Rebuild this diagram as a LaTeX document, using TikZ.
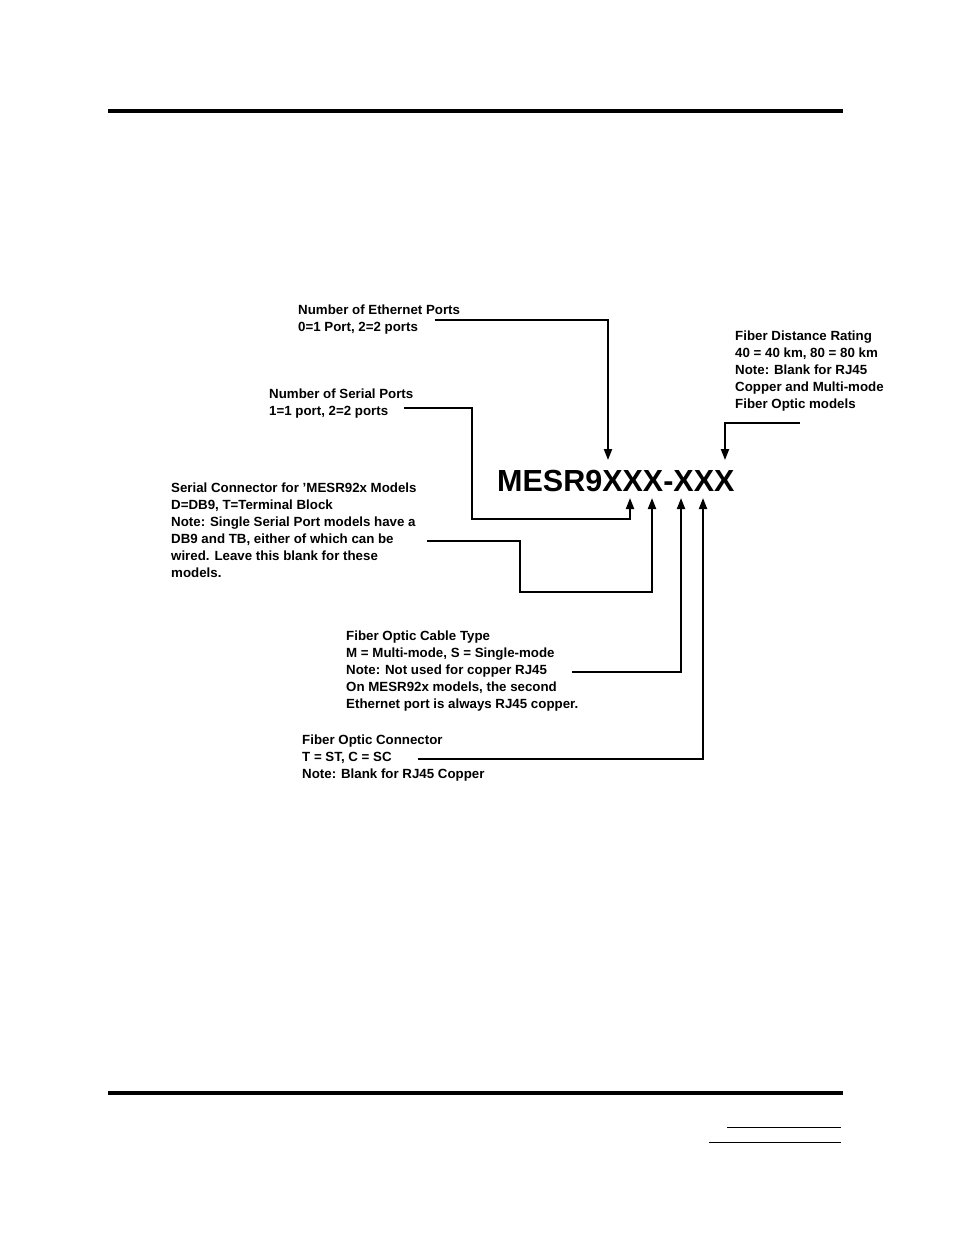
\documentclass[tikz,border=0pt]{standalone}
\usepackage{fontspec}
\setmainfont{Liberation Sans}
\usetikzlibrary{arrows.meta}
\begin{document}
\begin{tikzpicture}[x=1pt,y=-1pt,
  lbl/.style={anchor=north west,inner sep=0pt,align=left,font=\fontsize{13.3}{17}\selectfont\bfseries},
  conn/.style={line width=2pt,-{Triangle[length=11pt,width=8pt]}},
  rule/.style={line width=3.5pt}]
\useasboundingbox (0,0) rectangle (954,1235);
\draw[rule] (108,111) -- (843,111);
\draw[rule] (108,1093) -- (843,1093);
\draw[line width=1pt] (727,1127) -- (841,1127);
\draw[line width=1pt] (709,1142) -- (841,1142);
\node[inner sep=0pt,anchor=west,font=\fontsize{30.5}{36}\selectfont\bfseries] (code) at (497,481) {MESR9XXX-XXX};
\node[lbl] (eth) at (298,305) {Number of Ethernet Ports\\0=1 Port, 2=2 ports};
\node[lbl] (ser) at (269,389) {Number of Serial Ports\\1=1 port, 2=2 ports};
\node[lbl] (scon) at (171,483) {Serial Connector for 'MESR92x Models\\D=DB9, T=Terminal Block\\Note: Single Serial Port models have a\\DB9 and TB, either of which can be\\wired. Leave this blank for these\\models.};
\node[lbl] (fct) at (346,631) {Fiber Optic Cable Type\\M = Multi-mode, S = Single-mode\\Note: Not used for copper RJ45\\On MESR92x models, the second\\Ethernet port is always RJ45 copper.};
\node[lbl] (fco) at (302,735) {Fiber Optic Connector\\T = ST, C = SC\\Note: Blank for RJ45 Copper};
\node[lbl] (fdr) at (735,331) {Fiber Distance Rating\\40 = 40 km, 80 = 80 km\\Note: Blank for RJ45\\Copper and Multi-mode\\Fiber Optic models};
\coordinate (a1) at (608,320); \coordinate (t1) at (608,460);
\draw[conn] (435,320) -- (a1) -- (t1);
\coordinate (t2) at (630,498);
\draw[conn] (404,408) -- (472,408) -- (472,519) -- (630,519) -- (t2);
\coordinate (t3) at (652,498);
\draw[conn] (427,541) -- (520,541) -- (520,592) -- (652,592) -- (t3);
\coordinate (t4) at (681,498);
\draw[conn] (572,672) -- (681,672) -- (t4);
\coordinate (t5) at (703,498);
\draw[conn] (418,759) -- (703,759) -- (t5);
\coordinate (t6) at (725,460);
\draw[conn] (800,423) -- (725,423) -- (t6);
\end{tikzpicture}
\end{document}
